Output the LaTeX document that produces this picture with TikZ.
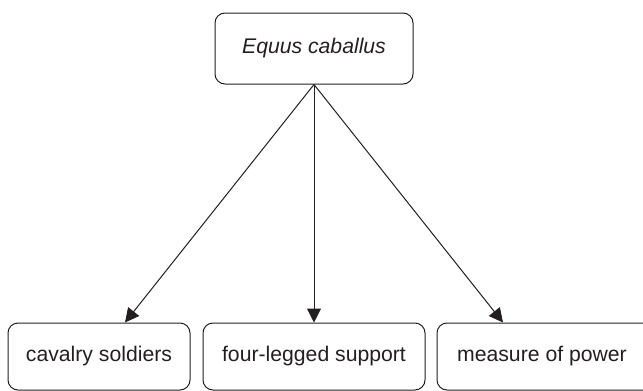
\documentclass[tikz,border=0pt]{standalone}
\usepackage{fontspec}
\setmainfont{Liberation Sans}
\usetikzlibrary{arrows.meta}
\definecolor{ink}{HTML}{231F20}
\begin{document}
\begin{tikzpicture}[x=1pt,y=-1pt,
  box/.style={draw=ink, line width=1pt, rounded corners=10pt, inner sep=0pt,
    text=ink, font=\fontsize{21.2}{25}\selectfont},
  low/.style={minimum height=67pt},
  link/.style={draw=ink, line width=1pt,
    -{Triangle[length=14pt,width=14pt]}}]
\useasboundingbox (0,0) rectangle (643,391);
\clip (0,0) rectangle (643,391);
% root concept
\node[box, minimum width=198pt, minimum height=71pt] (root) at (314,48.5)
  {\itshape Equus caballus};
% three readings of the concept
\node[box, low, minimum width=182pt] (cav) at (99,356.5)
  {\raisebox{-3.5pt}{cavalry soldiers}};
\node[box, low, minimum width=222pt] (legs) at (314,356.5)
  {\raisebox{-3.5pt}{four-legged support}};
\node[box, low, minimum width=218pt] (pow) at (546,356.5)
  {\hspace*{-8pt}\raisebox{-3.5pt}{measure of power}};
% connectors
\draw[link] (root.south) -- ([xshift=26pt]cav.north);
\draw[link] (root.south) -- (legs.north);
\draw[link] (root.south) -- ([xshift=-43pt]pow.north);
\end{tikzpicture}
\end{document}
